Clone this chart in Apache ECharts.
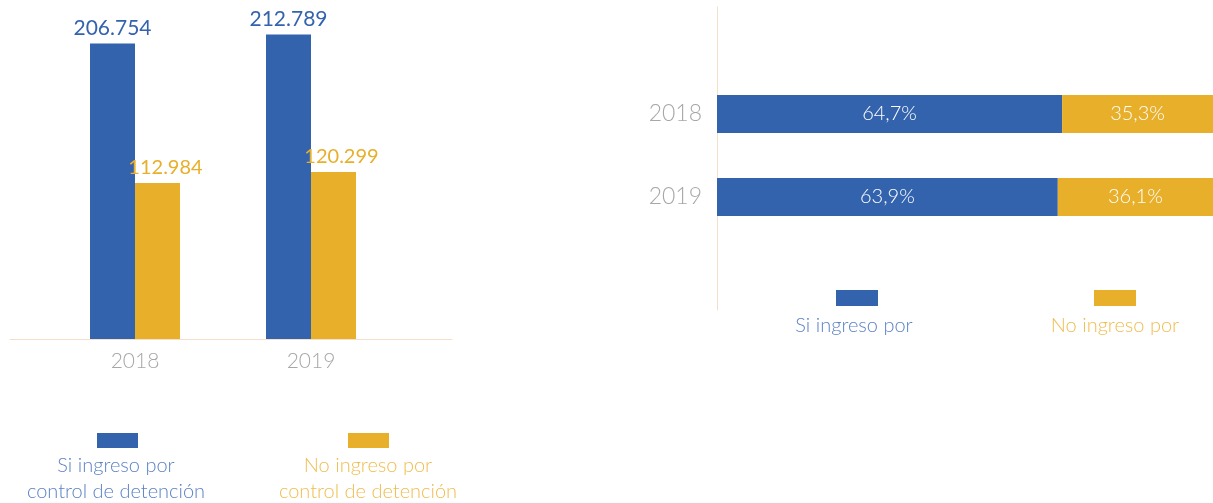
<!DOCTYPE html>
<html>
<head>
<meta charset="utf-8">
<script src="https://cdn.jsdelivr.net/npm/echarts@6/dist/echarts.min.js"></script>
<style>
html,body{margin:0;padding:0;background:#fff;}
#c{width:1213px;height:503px;}
</style>
</head>
<body>
<div id="c"></div>
<script>
// ---- data ----
const years = ['2018', '2019'];
const siValues = [206754, 212789];
const noValues = [112984, 120299];
const siPct = [64.7, 63.9];
const noPct = [35.3, 36.1];
const nameSiLong = 'Si ingreso por control de detención';
const nameNoLong = 'No ingreso por control de detención';
const nameSiShort = 'Si ingreso por';
const nameNoShort = 'No ingreso por';

// ---- style ----
const BLUE = '#3463ae';
const YELLOW = '#e8af2b';
const GRAY = '#a7a7a9';
const AXIS = '#f3dfcc';
const FONT = 'Lato';

const fmtThousands = v => String(v).replace(/\B(?=(\d{3})+(?!\d))/g, '.');
const fmtPct = v => String(v).replace('.', ',') + '%';

function iconLegend(name, left, top, w, h) {
  return {
    data: [name], left: left, top: top, padding: 0, itemGap: 0,
    icon: 'rect', itemWidth: w, itemHeight: h,
    formatter: () => '', selectedMode: true
  };
}
function textLegend(name, text, center, top, color, boxW) {
  const lines = text.split('\n').map(s => '{a|' + s + '}').join('\n');
  return {
    data: [name], left: center - boxW / 2 - 5, top: top, padding: 0,
    icon: 'none', itemWidth: 0, itemHeight: 0,
    formatter: () => lines,
    textStyle: {
      rich: { a: { width: boxW, align: 'center', fontSize: 20, lineHeight: 26,
                   fontFamily: FONT, fontWeight: 300, color: color } }
    }
  };
}

const chart = echarts.init(document.getElementById('c'), null, {renderer: 'canvas'});
chart.setOption({
  animation: false,
  backgroundColor: '#fff',
  textStyle: { fontFamily: FONT },
  grid: [
    { left: 47, width: 352, top: 0, height: 339 },
    { left: 10, width: 442, top: 0, height: 339 },
    { left: 717, right: 0, top: 72.5, height: 166 },
    { left: 717, width: 10, top: 7, height: 303 }
  ],
  xAxis: [
    { gridIndex: 0, type: 'category', data: years,
      axisLine: { show: false }, axisTick: { show: false },
      axisLabel: { color: GRAY, fontSize: 21, fontWeight: 300, margin: 12, fontFamily: FONT } },
    { gridIndex: 1, type: 'value', min: 0, max: 1,
      axisLine: { show: true, onZero: false, lineStyle: { color: AXIS, width: 1 } },
      axisTick: { show: false }, axisLabel: { show: false }, splitLine: { show: false } },
    { gridIndex: 2, type: 'value', min: 0, max: 93, show: false },
    { gridIndex: 3, type: 'value', min: 0, max: 1, show: false }
  ],
  yAxis: [
    { gridIndex: 0, type: 'value', min: 8000, max: 236000, show: false },
    { gridIndex: 1, type: 'value', min: 0, max: 1, show: false },
    { gridIndex: 2, type: 'category', data: years, inverse: true,
      axisLine: { show: false }, axisTick: { show: false },
      axisLabel: { color: GRAY, fontSize: 23, fontWeight: 300, margin: 15, fontFamily: FONT } },
    { gridIndex: 3, type: 'value', min: 0, max: 1,
      axisLine: { show: true, onZero: false, lineStyle: { color: AXIS, width: 1 } },
      axisTick: { show: false }, axisLabel: { show: false }, splitLine: { show: false } }
  ],
  legend: [
    iconLegend(nameSiLong, 97, 433, 41, 15),
    iconLegend(nameNoLong, 348, 433, 41, 15),
    textLegend(nameSiLong, 'Si ingreso por\ncontrol de detención', 116, 456, '#5b82c6', 210),
    textLegend(nameNoLong, 'No ingreso por\ncontrol de detención', 368, 456, '#efbd4f', 210),
    iconLegend(nameSiShort, 836, 290, 42, 16),
    iconLegend(nameNoShort, 1094, 290, 42, 16),
    textLegend(nameSiShort, 'Si ingreso por', 854, 316, '#5b82c6', 150),
    textLegend(nameNoShort, 'No ingreso por', 1115, 316, '#efbd4f', 150)
  ],
  series: [
    { name: nameSiLong, type: 'bar', xAxisIndex: 0, yAxisIndex: 0,
      data: siValues, barWidth: 45, barGap: '0%',
      itemStyle: { color: BLUE },
      label: { show: true, position: 'top', distance: 5, color: BLUE, fontSize: 21,
               fontFamily: FONT, formatter: p => fmtThousands(p.value) } },
    { name: nameNoLong, type: 'bar', xAxisIndex: 0, yAxisIndex: 0,
      data: noValues, barWidth: 45, barGap: '0%',
      itemStyle: { color: YELLOW },
      label: { show: true, position: 'top', distance: 5, offset: [8, 0], color: YELLOW, fontSize: 20,
               fontFamily: FONT, formatter: p => fmtThousands(p.value) } },
    { name: nameSiShort, type: 'bar', xAxisIndex: 2, yAxisIndex: 2, stack: 'pct',
      data: siPct, barWidth: 38,
      itemStyle: { color: BLUE },
      label: { show: true, position: 'inside', color: '#ffffff', fontSize: 20, fontWeight: 300,
               fontFamily: FONT, formatter: p => fmtPct(p.value) } },
    { name: nameNoShort, type: 'bar', xAxisIndex: 2, yAxisIndex: 2, stack: 'pct',
      data: noPct, barWidth: 38,
      itemStyle: { color: YELLOW },
      label: { show: true, position: 'inside', color: '#ffffff', fontSize: 20, fontWeight: 300,
               fontFamily: FONT, formatter: p => fmtPct(p.value) } }
  ]
});
</script>
</body>
</html>
